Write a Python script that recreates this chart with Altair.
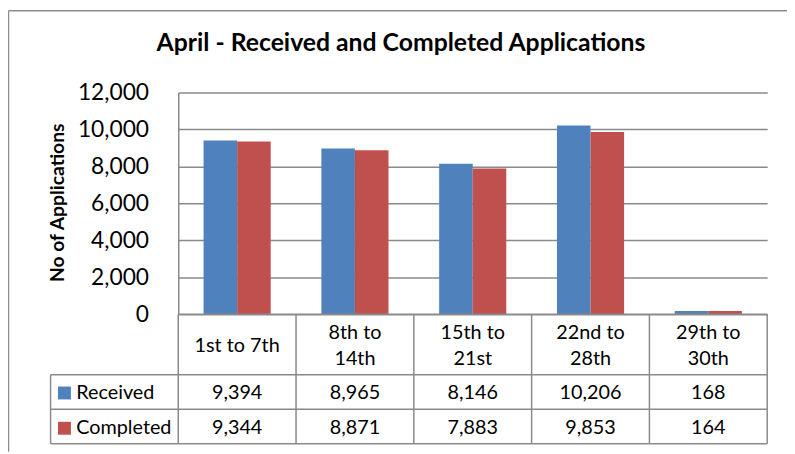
import altair as alt
import pandas as pd

# ---- data ----
categories = ["1st to 7th", "8th to 14th", "15th to 21st", "22nd to 28th", "29th to 30th"]
header_lines = [["1st to 7th"], ["8th to", "14th"], ["15th to", "21st"], ["22nd to", "28th"], ["29th to", "30th"]]
series = ["Received", "Completed"]
received = [9394, 8965, 8146, 10206, 168]
completed = [9344, 8871, 7883, 9853, 164]
y_ticks = [0, 2000, 4000, 6000, 8000, 10000, 12000]
colors = ["#4F81BD", "#C0504D"]
title_text = "April - Received and Completed Applications"

FONT = "Lato"
GRID = "#8a8a8a"
W, H_PLOT, H_ALL = 595, 224, 355

# ---- tables built from the arrays ----
bars_df = pd.DataFrame(
    [{"category": c, "series": "Received", "value": v} for c, v in zip(categories, received)]
    + [{"category": c, "series": "Completed", "value": v} for c, v in zip(categories, completed)]
)

# data table geometry (table units: one column = 1, data row = 1, header row = 1.75)
LEG_L = -1.084
HEAD_C = 0.93
LINE_STEP = 0.745
row_centers = {"Received": 2.28, "Completed": 3.3}
cells = []
for i, lines in enumerate(header_lines):
    n = len(lines)
    for j, ln in enumerate(lines):
        cells.append({"x": i + 0.5, "y": HEAD_C + (j - (n - 1) / 2) * LINE_STEP, "text": ln})
for i, v in enumerate(received):
    cells.append({"x": i + 0.5, "y": row_centers["Received"], "text": f"{v:,}"})
for i, v in enumerate(completed):
    cells.append({"x": i + 0.5, "y": row_centers["Completed"], "text": f"{v:,}"})
cells_df = pd.DataFrame(cells)

rules = [
    {"x": 0, "x2": 5, "y": 0, "y2": 0},
    {"x": LEG_L, "x2": 5, "y": 1.75, "y2": 1.75},
    {"x": LEG_L, "x2": 5, "y": 2.75, "y2": 2.75},
    {"x": LEG_L, "x2": 5, "y": 3.75, "y2": 3.75},
    {"x": LEG_L, "x2": LEG_L, "y": 1.75, "y2": 3.75},
]
for i in range(0, 6):
    rules.append({"x": i, "x2": i, "y": 0, "y2": 3.75})
rules_df = pd.DataFrame(rules)

legend_df = pd.DataFrame(
    [{"series": s, "y": row_centers[s], "xs": LEG_L + 0.118, "xt": LEG_L + 0.218} for s in series]
)

tx = alt.Scale(domain=[0, 5], range=[0, W], nice=False, zero=False)
ty = alt.Scale(domain=[0, 3.75], range=[H_PLOT, H_ALL], nice=False, zero=False)
color_scale = alt.Scale(domain=series, range=colors)

bars = alt.Chart(bars_df).mark_bar().encode(
    x=alt.X("category:N", sort=categories,
            scale=alt.Scale(paddingInner=0.43, paddingOuter=0.215), axis=None),
    xOffset=alt.XOffset("series:N", sort=series),
    y=alt.Y("value:Q",
            scale=alt.Scale(domain=[0, 12000], range=[H_PLOT, 0], nice=False),
            axis=alt.Axis(values=y_ticks, format=",.0f", grid=True, gridColor=GRID, gridWidth=1.5,
                          ticks=False, tickSize=0, domain=True, domainColor=GRID, domainWidth=1.5,
                          labelFont=FONT, labelFontSize=23, labelColor="black", labelPadding=30,
                          title="No of Applications", titleFont=FONT, titleFontSize=19.5,
                          titleFontWeight="bold", titleColor="black", titleAngle=270,
                          titleX=-122, titleY=H_PLOT / 2 - 1, titleAlign="center",
                          titleBaseline="middle")),
    color=alt.Color("series:N", scale=color_scale, legend=None),
)

table_rules = alt.Chart(rules_df).mark_rule(color=GRID, strokeWidth=1.5).encode(
    x=alt.X("x:Q", scale=tx, axis=None), x2="x2",
    y=alt.Y("y:Q", scale=ty, axis=None), y2="y2",
)

table_text = alt.Chart(cells_df).mark_text(
    font=FONT, fontSize=20, color="black", align="center", baseline="middle",
).encode(
    x=alt.X("x:Q", scale=tx, axis=None),
    y=alt.Y("y:Q", scale=ty, axis=None),
    text="text:N",
)

legend_sq = alt.Chart(legend_df).mark_square(size=170, opacity=1).encode(
    x=alt.X("xs:Q", scale=tx, axis=None),
    y=alt.Y("y:Q", scale=ty, axis=None),
    color=alt.Color("series:N", scale=color_scale, legend=None),
)

legend_txt = alt.Chart(legend_df).mark_text(
    font=FONT, fontSize=20, color="black", align="left", baseline="middle",
).encode(
    x=alt.X("xt:Q", scale=tx, axis=None),
    y=alt.Y("y:Q", scale=ty, axis=None),
    text="series:N",
)

one = pd.DataFrame({"t": [title_text]})
title = alt.Chart(one).mark_text(
    font=FONT, fontSize=25, fontWeight="bold", color="black", align="center", baseline="alphabetic"
).encode(x=alt.value(225), y=alt.value(-42), text="t:N")

frame = alt.Chart(one).mark_rule(color="#8c8c8c", strokeWidth=1.5).encode(
    x=alt.value(-171.5), y=alt.value(-82.5), y2=alt.value(H_ALL + 8)
)
frame_top = alt.Chart(one).mark_rule(color="#8c8c8c", strokeWidth=1.5).encode(
    x=alt.value(-171.5), x2=alt.value(W + 20), y=alt.value(-82.5)
)

chart = alt.layer(
    bars, table_rules, table_text, legend_sq, legend_txt, title, frame, frame_top
).resolve_scale(
    x="independent", y="independent"
).properties(
    width=W, height=H_ALL,
    autosize=alt.AutoSizeParams(type="none"),
    padding={"left": 172, "top": 83, "right": 20, "bottom": 8},
    background="white",
).configure_view(stroke=None)

chart.save("out.html", embed_options={"renderer": "svg", "actions": False})
